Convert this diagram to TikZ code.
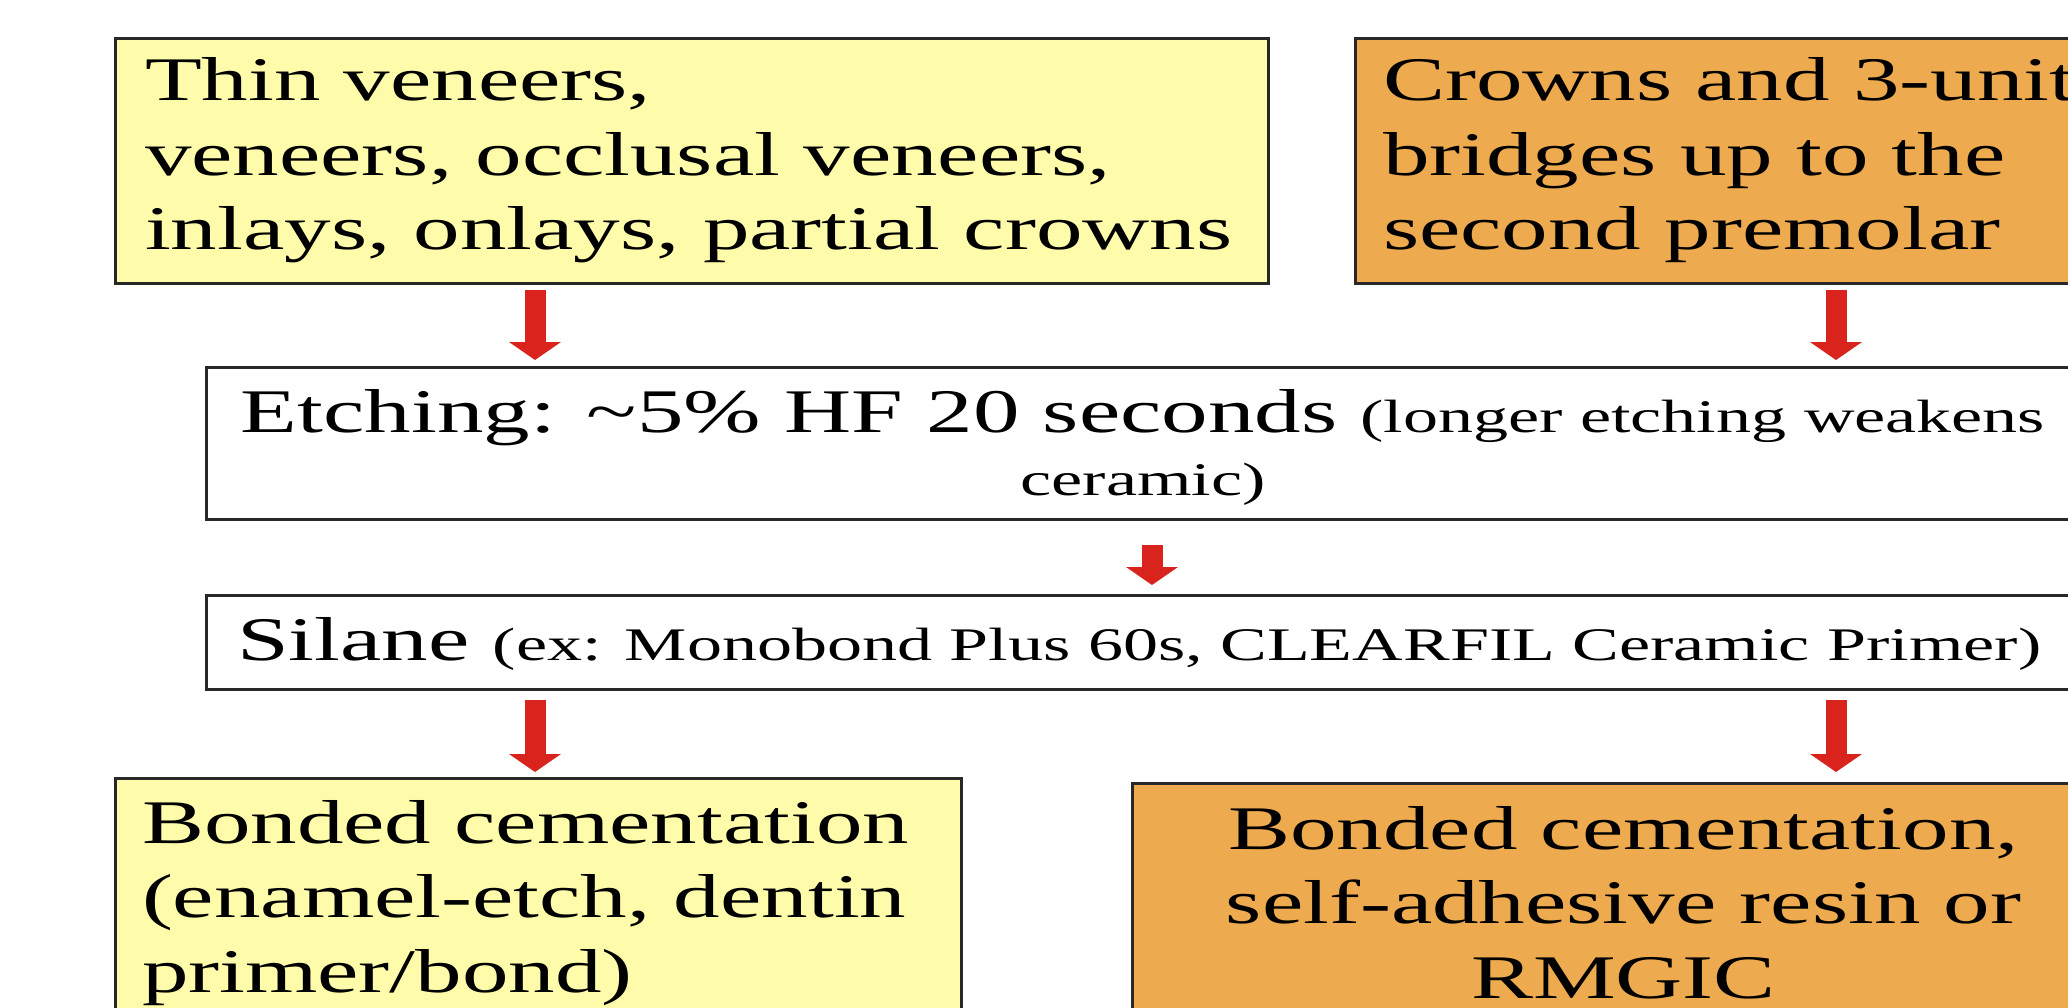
\documentclass[tikz,border=0pt]{standalone}
\usepackage{fontspec}
\setmainfont{Liberation Serif}[FakeStretch=1.5]
\usetikzlibrary{arrows.meta,calc}

\definecolor{paleyellow}{RGB}{254,252,170}
\definecolor{amber}{RGB}{238,170,78}
\definecolor{flowred}{RGB}{216,36,28}
\definecolor{edgegrey}{RGB}{40,40,40}

\newcommand{\bigsize}{\fontsize{62}{74.5}\selectfont}
\newcommand{\notesize}{\fontsize{46.7}{63}\selectfont}

\begin{document}
\begin{tikzpicture}[x=1pt,y=-1pt,
  box/.style={draw=edgegrey, line width=3pt, rectangle, inner sep=0pt, anchor=north west},
  bigtext/.style={font=\bigsize, inner sep=0pt, outer sep=0pt},
  flow/.style={draw=flowred, line width=21pt,
    -{Triangle[length=18pt,width=52pt,line width=0pt]}},
]
\useasboundingbox (0,0) rectangle (2068,1008);
\fill[white] (0,0) rectangle (2068,1008);
\clip (0,0) rectangle (2068,1008);

% restoration types (text nodes are anchored at the baseline of their last line)
\node[box, fill=paleyellow, minimum width=1153pt, minimum height=245pt] (tl) at (114,37) {};
\node[box, fill=amber, minimum width=800pt, minimum height=245pt] (tr) at (1354,37) {};
\node[bigtext, anchor=base west, align=left] (tltext) at ($(tl.north west)+(31,213)$)
  {Thin veneers,\\ veneers, occlusal veneers,\\ inlays, onlays, partial crowns};
\node[bigtext, anchor=base west, align=left] (trtext) at ($(tr.north west)+(29,213)$)
  {Crowns and 3-unit\\ bridges up to the\\ second premolar};

% common treatment steps
\node[box, fill=white, minimum width=1873pt, minimum height=152pt] (etch) at (205,366) {};
\node[inner sep=0pt, anchor=base, align=center, font=\fontsize{62}{63}\selectfont] (etchtext)
  at ($(etch.north)+(0,129)$)
  {Etching: \textasciitilde5\% HF 20 seconds {\notesize (longer etching weakens}\\ {\notesize ceramic)}};

\node[box, fill=white, minimum width=1873pt, minimum height=94pt] (silane) at (205,594) {};
\node[bigtext, anchor=base west] (silanetext) at ($(silane.north west)+(32,66)$)
  {Silane {\notesize (ex: Monobond Plus 60s, CLEARFIL Ceramic Primer)}};

% cementation
\node[box, fill=paleyellow, minimum width=846pt, minimum height=300pt] (bl) at (114,777) {};
\node[box, fill=amber, minimum width=982pt, minimum height=300pt] (br) at (1131,782) {};
\node[bigtext, anchor=base west, align=left] (bltext) at ($(bl.north west)+(28,215)$)
  {Bonded cementation\\ (enamel-etch, dentin\\ primer/bond)};
\node[bigtext, anchor=base, align=center] (brtext) at ($(br.north)+(0,216)$)
  {Bonded cementation,\\ self-adhesive resin or\\ RMGIC};

% arrow columns
\coordinate (colL) at (535,0);
\coordinate (colM) at (1152,0);
\coordinate (colR) at (1836,0);

\draw[flow, shorten <=5pt, shorten >=6pt] (tl.south -| colL) -- (etch.north -| colL);
\draw[flow, shorten <=5pt, shorten >=6pt] (tr.south -| colR) -- (etch.north -| colR);
\draw[flow, shorten <=24pt, shorten >=9pt] (etch.south -| colM) -- (silane.north -| colM);
\draw[flow, shorten <=9pt, shorten >=5pt] (silane.south -| colL) -- (bl.north -| colL);
\draw[flow, shorten <=9pt, shorten >=10pt] (silane.south -| colR) -- (br.north -| colR);
\end{tikzpicture}
\end{document}
